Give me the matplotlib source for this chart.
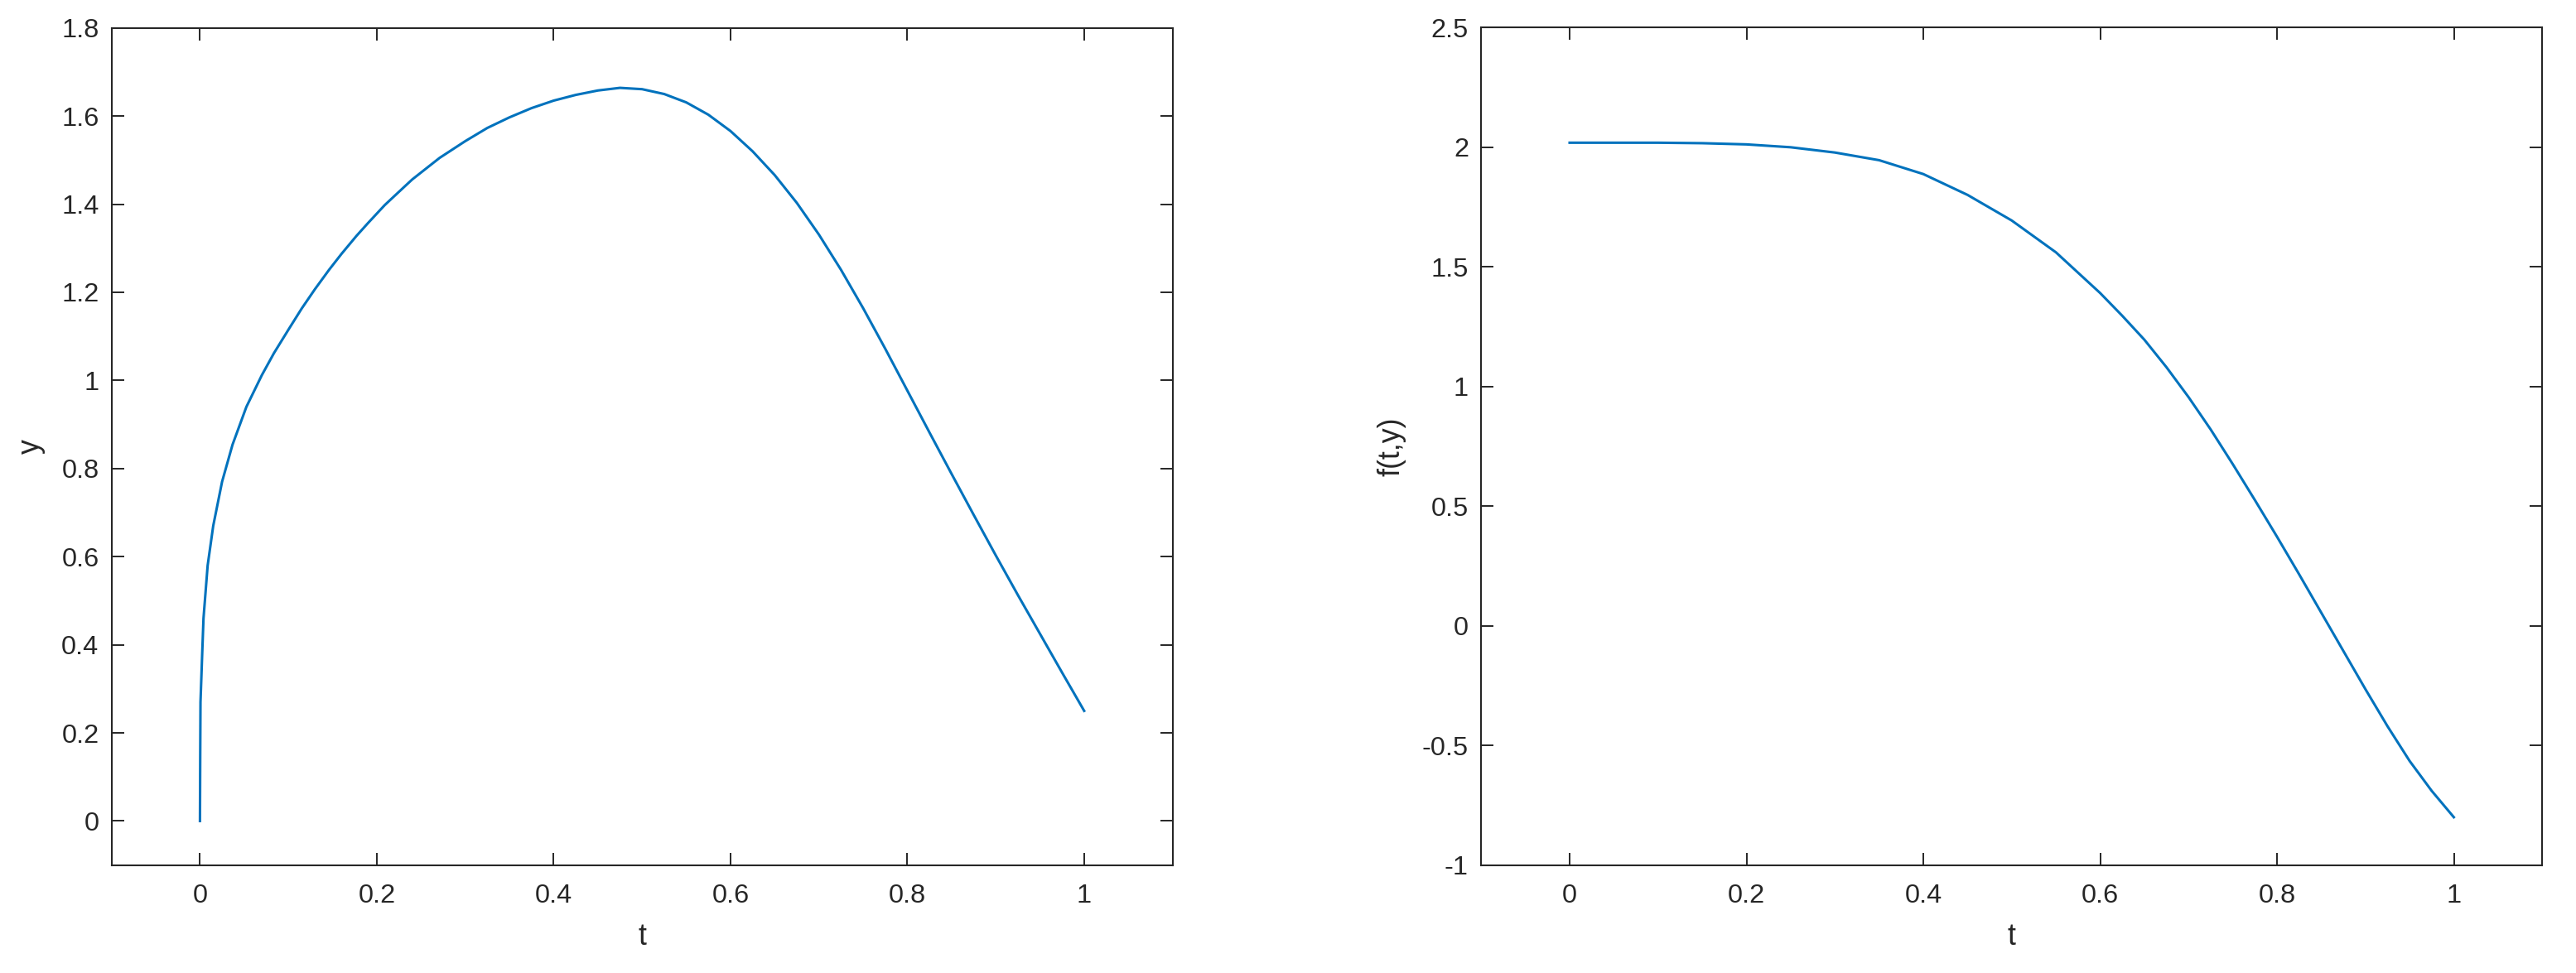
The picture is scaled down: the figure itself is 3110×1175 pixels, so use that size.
import matplotlib
matplotlib.use("Agg")
import matplotlib.pyplot as plt
from matplotlib.ticker import FuncFormatter

# values
t_y = [0, 0.0003, 0.0006, 0.0025, 0.004, 0.0087, 0.015, 0.025, 0.0368, 0.0525,
       0.07, 0.0837, 0.1, 0.115, 0.13, 0.146, 0.16, 0.177, 0.19, 0.209,
       0.225, 0.24, 0.271, 0.3, 0.325, 0.35, 0.375, 0.4, 0.425, 0.45,
       0.475, 0.5, 0.525, 0.55, 0.575, 0.6, 0.625, 0.65, 0.675, 0.7,
       0.725, 0.75, 0.775, 0.8, 0.825, 0.85, 0.875, 0.9, 0.925, 0.95,
       0.975, 1.0]
y_vals = [0, 0.15, 0.27, 0.378, 0.46, 0.58, 0.67, 0.77, 0.854, 0.94,
          1.012, 1.062, 1.115, 1.163, 1.207, 1.251, 1.287, 1.328, 1.357, 1.398,
          1.428, 1.456, 1.505, 1.543, 1.573, 1.597, 1.618, 1.635, 1.648, 1.658,
          1.664, 1.661, 1.65, 1.631, 1.603, 1.566, 1.52, 1.466, 1.403, 1.331,
          1.251, 1.164, 1.072, 0.977, 0.882, 0.788, 0.695, 0.603, 0.513, 0.425,
          0.337, 0.25]

t_f = [0, 0.1, 0.15, 0.2, 0.25, 0.3, 0.35, 0.4, 0.45, 0.5,
       0.55, 0.6, 0.625, 0.65, 0.675, 0.7, 0.725, 0.75, 0.775, 0.8,
       0.825, 0.85, 0.875, 0.9, 0.925, 0.95, 0.975, 1.0]
f_vals = [2.018, 2.018, 2.016, 2.011, 1.999, 1.977, 1.945, 1.887, 1.80, 1.693,
          1.56, 1.39, 1.295, 1.195, 1.08, 0.955, 0.82, 0.675, 0.525, 0.372,
          0.215, 0.055, -0.105, -0.265, -0.42, -0.565, -0.69, -0.8]

x_ticks = [0, 0.2, 0.4, 0.6, 0.8, 1]
y_ticks_left = [0, 0.2, 0.4, 0.6, 0.8, 1, 1.2, 1.4, 1.6, 1.8]
y_ticks_right = [-1, -0.5, 0, 0.5, 1, 1.5, 2, 2.5]

plt.rcParams['font.family'] = ['Liberation Sans', 'DejaVu Sans']
dark = '#262626'
blue = '#0072BD'

fig = plt.figure(figsize=(15.55, 5.875), dpi=200)
ax1 = fig.add_axes([0.0433, 0.1109, 0.4119, 0.8604])
ax2 = fig.add_axes([0.5750, 0.1109, 0.4119, 0.8610])

fmt = FuncFormatter(lambda v, p: f'{v:g}')


def style(ax, yticks, ylim, ylabel):
    ax.set_xlim(-0.1, 1.1)
    ax.set_ylim(*ylim)
    ax.set_xticks(x_ticks)
    ax.set_yticks(yticks)
    ax.xaxis.set_major_formatter(fmt)
    ax.yaxis.set_major_formatter(fmt)
    ax.tick_params(direction='in', length=5.3, width=0.7, color=dark,
                   labelcolor=dark, labelsize=11.7, top=True, right=True)
    ax.tick_params(axis='x', pad=8)
    ax.tick_params(axis='y', pad=5.5)
    for s in ax.spines.values():
        s.set_color(dark)
        s.set_linewidth(0.75)
    ax.set_xlabel('t', fontsize=12.9, color=dark, labelpad=6)
    ax.set_ylabel(ylabel, fontsize=12.9, color=dark, labelpad=7)


ax1.plot(t_y, y_vals, color=blue, lw=1.1)
style(ax1, y_ticks_left, (-0.1, 1.8), 'y')

ax2.plot(t_f, f_vals, color=blue, lw=1.1)
style(ax2, y_ticks_right, (-1, 2.5), 'f(t,y)')

fig.savefig('out.png', dpi=200)
